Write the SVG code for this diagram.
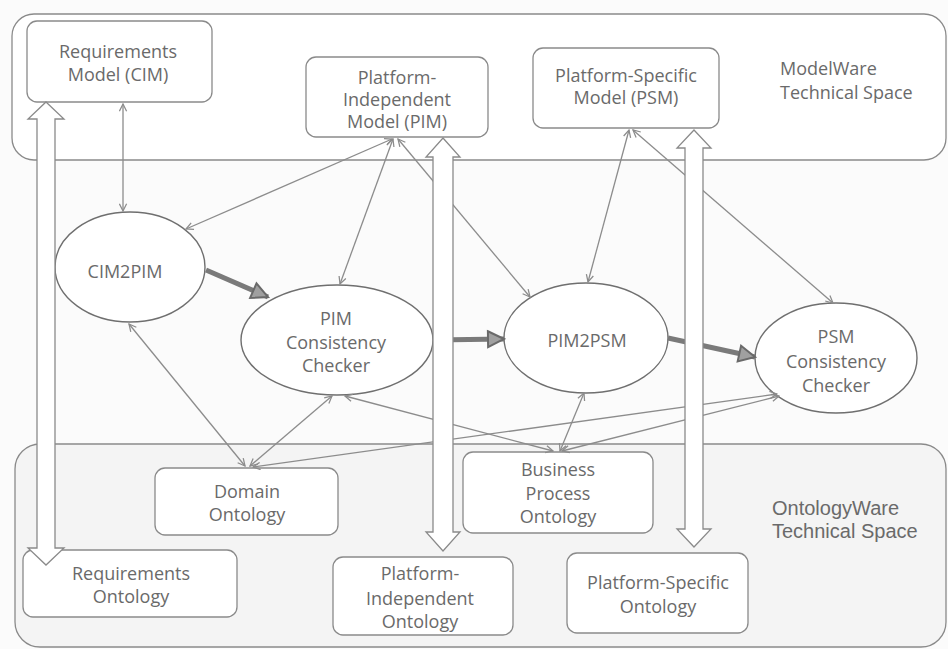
<svg xmlns="http://www.w3.org/2000/svg" width="948" height="649" viewBox="0 0 948 649">
<style>
.bg{fill:#fbfbfb}
.space{fill:#ffffff;stroke:#8a8a8a;stroke-width:1.3}
.space2{fill:#f4f4f4;stroke:#8a8a8a;stroke-width:1.3}
.box{fill:#ffffff;stroke:#8a8a8a;stroke-width:1.3}
.ell{fill:#ffffff;stroke:#6f6f6f;stroke-width:1.4}
.t{font-family:"Open Sans","Noto Sans","DejaVu Sans",sans-serif;font-size:18px;fill:#6a6a6a;text-anchor:middle}
.tl{font-family:"Open Sans","Noto Sans","DejaVu Sans",sans-serif;font-size:18px;fill:#6a6a6a}
.ta{font-family:"Liberation Sans",Arial,sans-serif;font-size:20px;fill:#6a6a6a}
.thin{fill:none;stroke:#8c8c8c;stroke-width:1.3;marker-start:url(#sa);marker-end:url(#sa)}
.thick{fill:none;stroke:#7a7a7a;stroke-width:5;marker-end:url(#ba)}
.block{fill:#ffffff;stroke:#8a8a8a;stroke-width:1.3}
</style>
<defs>
<marker id="sa" viewBox="0 0 10 10" refX="9" refY="5" markerWidth="9" markerHeight="9" markerUnits="userSpaceOnUse" orient="auto-start-reverse">
<path d="M1,1 L9,5 L1,9" fill="none" stroke="#8c8c8c" stroke-width="1.4"/>
</marker>
<marker id="ba" viewBox="0 0 20 20" refX="18" refY="10" markerWidth="20" markerHeight="20" markerUnits="userSpaceOnUse" orient="auto">
<path d="M2,2 L18,10 L2,18 Z" fill="#a0a0a0" stroke="#6a6a6a" stroke-width="2"/>
</marker>
</defs>
<rect class="bg" x="0" y="0" width="948" height="649"/>
<g id="modelware-space">
<rect class="space" x="12" y="14" width="934" height="146" rx="22"/>
<text class="tl" x="780" y="75">ModelWare</text>
<text class="tl" x="780" y="99">Technical Space</text>
</g>
<g id="ontologyware-space">
<rect class="space2" x="15" y="444" width="931" height="203" rx="25"/>
<text class="ta" x="772" y="515">OntologyWare</text>
<text class="ta" x="772" y="538">Technical Space</text>
</g>
<g id="req-model">
<rect class="box" x="27" y="21" width="185" height="81" rx="10"/>
<text class="t" x="118" y="58">Requirements</text>
<text class="t" x="118" y="81">Model (CIM)</text>
</g>
<g id="pim-model">
<rect class="box" x="306" y="57" width="182" height="80" rx="10"/>
<text class="t" x="397" y="84">Platform-</text>
<text class="t" x="397" y="106">Independent</text>
<text class="t" x="397" y="128">Model (PIM)</text>
</g>
<g id="psm-model">
<rect class="box" x="533" y="48" width="186" height="80" rx="10"/>
<text class="t" x="626" y="82">Platform-Specific</text>
<text class="t" x="626" y="104">Model (PSM)</text>
</g>
<g id="cim2pim">
<ellipse class="ell" cx="130" cy="267" rx="75" ry="55"/>
<text class="t" x="125" y="278">CIM2PIM</text>
</g>
<g id="pim-cc">
<ellipse class="ell" cx="337" cy="340" rx="96" ry="55"/>
<text class="t" x="336" y="325">PIM</text>
<text class="t" x="336" y="349">Consistency</text>
<text class="t" x="336" y="372">Checker</text>
</g>
<g id="pim2psm">
<ellipse class="ell" cx="586" cy="338" rx="82" ry="55"/>
<text class="t" x="587" y="347">PIM2PSM</text>
</g>
<g id="psm-cc">
<ellipse class="ell" cx="836" cy="358" rx="81" ry="55"/>
<text class="t" x="836" y="343">PSM</text>
<text class="t" x="836" y="368">Consistency</text>
<text class="t" x="836" y="392">Checker</text>
</g>
<g id="domain-ontology">
<rect class="box" x="155" y="468" width="183" height="67" rx="10"/>
<text class="t" x="247" y="498">Domain</text>
<text class="t" x="247" y="521">Ontology</text>
</g>
<g id="business-ontology">
<rect class="box" x="463" y="452" width="190" height="81" rx="10"/>
<text class="t" x="558" y="476">Business</text>
<text class="t" x="558" y="500">Process</text>
<text class="t" x="558" y="523">Ontology</text>
</g>
<g id="req-ontology">
<rect class="box" x="23" y="550" width="214" height="67" rx="10"/>
<text class="t" x="131" y="580">Requirements</text>
<text class="t" x="131" y="603">Ontology</text>
</g>
<g id="pi-ontology">
<rect class="box" x="333" y="557" width="180" height="78" rx="10"/>
<text class="t" x="420" y="580">Platform-</text>
<text class="t" x="420" y="605">Independent</text>
<text class="t" x="420" y="628">Ontology</text>
</g>
<g id="ps-ontology">
<rect class="box" x="567" y="553" width="181" height="80" rx="10"/>
<text class="t" x="658" y="589">Platform-Specific</text>
<text class="t" x="658" y="613">Ontology</text>
</g>
<g id="connectors">
<line class="thin" x1="123" y1="104" x2="123" y2="211"/>
<line class="thin" x1="392" y1="139" x2="186" y2="229"/>
<line class="thin" x1="393" y1="139" x2="340" y2="284"/>
<line class="thin" x1="398" y1="139" x2="530" y2="297"/>
<line class="thin" x1="629" y1="130" x2="588" y2="282"/>
<line class="thin" x1="633" y1="130" x2="833" y2="303"/>
<line class="thin" x1="245" y1="466" x2="129" y2="324"/>
<line class="thin" x1="250" y1="466" x2="332" y2="396"/>
<line class="thin" x1="253" y1="467" x2="777" y2="394"/>
<line class="thin" x1="553" y1="451" x2="345" y2="396"/>
<line class="thin" x1="560" y1="451" x2="584" y2="393"/>
<line class="thin" x1="562" y1="451" x2="779" y2="396"/>
<line class="thick" x1="206" y1="270" x2="268" y2="297"/>
<line class="thick" x1="434" y1="340" x2="504" y2="339"/>
<line class="thick" x1="668" y1="338" x2="755" y2="357"/>
<path class="block" d="M46,102 L64,119 L55,119 L55,548 L64,548 L46,565 L28,548 L37,548 L37,119 L28,119 Z"/>
<path class="block" d="M443,138 L460,157 L453,157 L453,532 L460,532 L443,551 L426,532 L433,532 L433,157 L426,157 Z"/>
<path class="block" d="M694,130 L711,148 L703,148 L703,529 L711,529 L694,547 L677,529 L685,529 L685,148 L677,148 Z"/>
</g>
</svg>
